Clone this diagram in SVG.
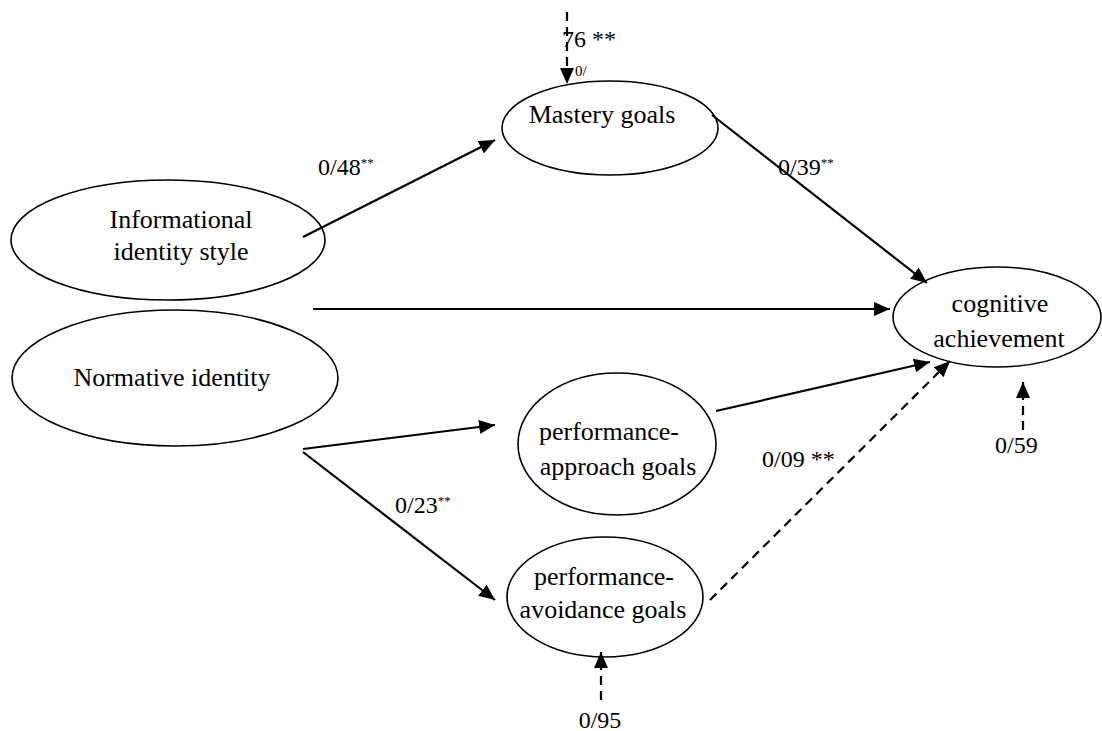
<svg xmlns="http://www.w3.org/2000/svg" width="1102" height="731" viewBox="0 0 1102 731">
<style>
.node{fill:#fff;stroke:#000;stroke-width:1.6}
.nt{font-family:"Liberation Serif","Times New Roman",serif;font-size:26px;fill:#000;text-anchor:middle}
.lb{font-family:"Liberation Serif","Times New Roman",serif;font-size:24px;fill:#000}
.sup{font-size:13px}
.ed{stroke:#000;stroke-width:2.2;fill:none}
.dash{stroke-dasharray:9,6}
</style>
<defs>
<marker id="ah" markerUnits="userSpaceOnUse" markerWidth="18" markerHeight="14" refX="16" refY="7" orient="auto">
<path d="M0,0 L16,7 L0,14 Z" fill="#000"/>
</marker>
</defs>
<g id="informational"><ellipse class="node" cx="168" cy="240" rx="157" ry="60"/><text class="nt" x="181" y="228">Informational</text><text class="nt" x="181" y="260">identity style</text></g>
<g id="normative"><ellipse class="node" cx="175" cy="378" rx="163" ry="68"/><text class="nt" x="172" y="386">Normative identity</text></g>
<g id="mastery"><ellipse class="node" cx="610" cy="128" rx="108" ry="47"/><text class="nt" x="602" y="123">Mastery goals</text></g>
<g id="cognitive"><ellipse class="node" cx="997" cy="317" rx="104" ry="50"/><text class="nt" x="1000" y="312">cognitive</text><text class="nt" x="999" y="347">achievement</text></g>
<g id="approach"><ellipse class="node" cx="617" cy="444" rx="99" ry="71"/><text class="nt" x="609" y="440">performance-</text><text class="nt" x="618" y="475">approach goals</text></g>
<g id="avoidance"><ellipse class="node" cx="605" cy="597" rx="98" ry="60"/><text class="nt" x="604" y="585">performance-</text><text class="nt" x="603" y="618">avoidance goals</text></g>
<g id="connectors">
<line class="ed" x1="303" y1="237" x2="495" y2="140" marker-end="url(#ah)"/>
<line class="ed" x1="712" y1="115" x2="927" y2="283" marker-end="url(#ah)"/>
<line class="ed" x1="313" y1="309" x2="890" y2="309" marker-end="url(#ah)"/>
<line class="ed" x1="303" y1="449" x2="495" y2="425" marker-end="url(#ah)"/>
<line class="ed" x1="303" y1="452" x2="495" y2="600" marker-end="url(#ah)"/>
<line class="ed" x1="716" y1="411" x2="930" y2="362" marker-end="url(#ah)"/>
<line class="ed dash" x1="710" y1="600" x2="950" y2="361" marker-end="url(#ah)"/>
<line class="ed dash" x1="1023" y1="430" x2="1023" y2="382" marker-end="url(#ah)"/>
<line class="ed dash" x1="601" y1="700" x2="601" y2="652" marker-end="url(#ah)"/>
<line class="ed dash" x1="567" y1="12" x2="567" y2="84" marker-end="url(#ah)"/>
</g>
<g id="labels">
<text class="lb" x="318" y="175">0/48<tspan class="sup" dy="-8">**</tspan></text>
<text class="lb" x="778" y="175">0/39<tspan class="sup" dy="-8">**</tspan></text>
<text class="lb" x="395" y="513">0/23<tspan class="sup" dy="-8">**</tspan></text>
<text class="lb" x="762" y="467">0/09 **</text>
<text class="lb" x="995" y="453">0/59</text>
<text class="lb" x="600" y="728" text-anchor="middle">0/95</text>
<text class="lb" x="562" y="47">76 **</text>
<text class="lb" x="575" y="76" style="font-size:15px">0/</text>
</g>
</svg>
